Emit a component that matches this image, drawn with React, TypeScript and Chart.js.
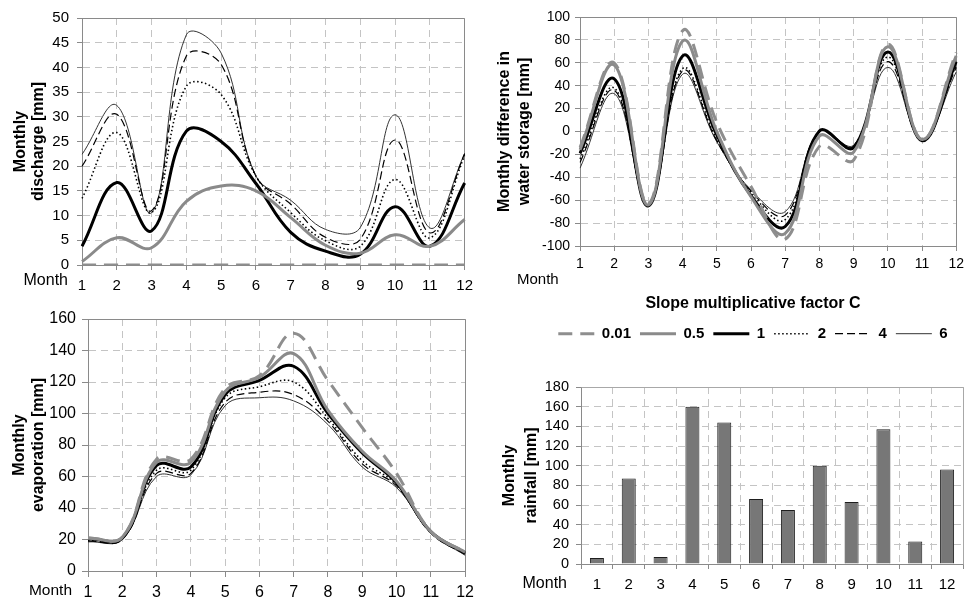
import React, { useEffect, useRef } from 'react';
import { Chart, registerables } from 'chart.js';

Chart.register(...registerables);
Chart.defaults.font.family = "'Liberation Sans', Arial, Helvetica, sans-serif";
Chart.defaults.color = '#000';

// ---------- data ----------
const months = ['1', '2', '3', '4', '5', '6', '7', '8', '9', '10', '11', '12'];
const factors = ['0.01', '0.5', '1', '2', '4', '6'];
const legendTitle = 'Slope multiplicative factor C';
const xAxisName = 'Month';

// Monthly discharge [mm]
const discharge001 = [0, 0, 0, 0, 0, 0, 0, 0, 0, 0, 0, 0];
const discharge05 = [0.7, 5.5, 3.5, 12.9, 16.0, 15.0, 9.6, 4.0, 2.4, 6.1, 3.8, 9.2];
const discharge1 = [3.8, 16.7, 6.9, 27.1, 25.0, 16.5, 6.6, 2.8, 2.2, 11.8, 3.8, 16.6];
const discharge2 = [13.5, 26.8, 10.6, 36.2, 34.5, 18.0, 10.6, 4.9, 3.8, 17.3, 5.5, 22.2];
const discharge4 = [20.0, 30.5, 11.0, 42.3, 40.6, 18.0, 12.3, 5.6, 5.2, 25.3, 6.5, 22.5];
const discharge6 = [22.4, 32.3, 10.6, 46.6, 42.9, 18.0, 13.1, 7.2, 7.6, 30.4, 7.5, 22.6];

// Monthly difference in water storage [mm]
const storage001 = [-14, 60, -63, 88, 8, -48, -94, -13, -25, 76, -7, 69];
const storage05 = [-16, 58, -64, 79, 0, -57, -89, -4, -18, 74, -7, 66];
const storage1 = [-19, 46, -65, 66, -3, -56, -83, 0.5, -14, 69.5, -8, 61];
const storage2 = [-24, 38, -64, 55, -7, -53, -77, 0, -13, 65, -7.5, 58];
const storage4 = [-27, 36, -64, 53, -8, -52, -73, 0, -13, 61, -7.5, 56];
const storage6 = [-32, 33, -64, 50, -9, -51, -70, 0, -12, 56, -7, 52];

// Monthly evaporation [mm]
const evap001 = [21, 21.5, 71, 71, 116, 124, 151, 121, 91, 62, 25, 12];
const evap05 = [21, 21.5, 69, 69, 114, 123, 138, 102, 76, 57, 25, 12];
const evap1 = [20.5, 21, 67, 66, 112, 121, 130, 100, 75, 56, 25, 11.5];
const evap2 = [19.5, 20.5, 64, 64, 110, 117, 120, 97, 70, 55, 24.5, 11];
const evap4 = [19, 20, 62, 62, 107, 113.5, 112, 95, 68, 54, 24, 10.5];
const evap6 = [18.5, 20, 60, 61, 105, 110, 108, 93, 66, 53, 24, 10];

// Monthly rainfall [mm]
const rainfall = [6, 87, 7, 160, 144, 66, 55, 100, 63, 137, 23, 96];

// ---------- styles ----------
const STYLES = [
  { borderColor: '#8e8e8e', borderWidth: 3, borderDash: [14, 8] },
  { borderColor: '#8a8a8a', borderWidth: 3, borderDash: [] as number[] },
  { borderColor: '#000000', borderWidth: 3, borderDash: [] as number[] },
  { borderColor: '#000000', borderWidth: 1.6, borderDash: [1.5, 2.5] },
  { borderColor: '#000000', borderWidth: 1.2, borderDash: [8, 4] },
  { borderColor: '#333333', borderWidth: 1, borderDash: [] as number[] },
];
const GRID = '#c4c4c4';
const AXIS = '#8a8a8a';

function lineDatasets(series: number[][]) {
  return series.map((values, i) => ({
    label: factors[i],
    data: values,
    ...STYLES[i],
    pointRadius: 0,
    pointHoverRadius: 0,
    tension: 0.4,
    fill: false,
  }));
}

function alignPx(v: number) {
  return Math.round(v - 0.5) + 0.5;
}

const decor = {
  id: 'decor',
  beforeDatasetsDraw(chart: any, _args: any, opts: any) {
    if (!opts || !opts.frame) return;
    const { ctx, chartArea: a } = chart;
    ctx.save();
    ctx.strokeStyle = opts.frame;
    ctx.lineWidth = 1;
    ctx.setLineDash([]);
    ctx.beginPath();
    ctx.moveTo(alignPx(a.left), alignPx(a.top));
    ctx.lineTo(alignPx(a.right), alignPx(a.top));
    ctx.lineTo(alignPx(a.right), alignPx(a.bottom));
    ctx.stroke();
    ctx.restore();
  },
  afterDraw(chart: any, _args: any, opts: any) {
    if (!opts || !opts.month) return;
    const m = opts.month;
    const { ctx } = chart;
    ctx.save();
    ctx.fillStyle = '#000';
    ctx.font = `${m.size}px 'Liberation Sans', Arial, sans-serif`;
    ctx.textAlign = m.align;
    ctx.textBaseline = 'middle';
    ctx.fillText(xAxisName, m.x, m.y);
    ctx.restore();
  },
};

function makeScales(p: any) {
  return {
    x: {
      type: 'category',
      offset: !!p.offset,
      grid: {
        color: GRID,
        lineWidth: 1,
        drawTicks: true,
        tickLength: p.tickLen,
        tickColor: AXIS,
        tickWidth: 1,
        offset: !!p.offset,
      },
      border: { display: true, color: AXIS, width: 1, dash: [7, 5] },
      ticks: { color: '#000', font: { size: p.xTickSize }, padding: p.xPad, autoSkip: false, maxRotation: 0 },
      afterFit: (s: any) => {
        s.height = p.xHeight;
      },
    },
    y: {
      type: 'linear',
      min: p.ymin,
      max: p.ymax,
      ticks: { stepSize: p.step, color: '#000', font: { size: p.yTickSize }, padding: p.yPad, autoSkip: false },
      grid: {
        color: GRID,
        lineWidth: 1,
        drawTicks: true,
        tickLength: p.tickLen,
        tickColor: AXIS,
        tickWidth: 1,
      },
      border: { display: true, color: AXIS, width: 1, dash: [7, 5] },
      title: {
        display: true,
        text: p.title,
        color: '#000',
        font: { size: 16, weight: 'bold', lineHeight: p.titleLH },
        padding: { top: p.titlePad, bottom: 0 },
      },
      afterFit: (s: any) => {
        s.width = p.yWidth;
      },
    },
  };
}

function baseOptions(padding: any, scales: any, decorOpts: any) {
  return {
    responsive: false,
    animation: false,
    events: [],
    layout: { padding },
    scales,
    plugins: {
      legend: { display: false },
      tooltip: { enabled: false },
      decor: decorOpts,
    },
  };
}

export default function App() {
  const refA = useRef<HTMLCanvasElement>(null);
  const refB = useRef<HTMLCanvasElement>(null);
  const refL = useRef<HTMLCanvasElement>(null);
  const refC = useRef<HTMLCanvasElement>(null);
  const refD = useRef<HTMLCanvasElement>(null);

  useEffect(() => {
    const charts: Chart[] = [];

    charts.push(
      new Chart(refA.current as HTMLCanvasElement, {
        type: 'line',
        data: {
          labels: months,
          datasets: lineDatasets([discharge001, discharge05, discharge1, discharge2, discharge4, discharge6]),
        },
        options: baseOptions(
          { left: 0, top: 18, right: 12, bottom: 0 },
          makeScales({
            ymin: 0, ymax: 50, step: 5, yWidth: 82, xHeight: 35, tickLen: 5,
            xTickSize: 15, yTickSize: 15, xPad: 7, yPad: 8,
            title: ['Monthly', 'discharge [mm]'], titleLH: 1.125, titlePad: 12,
          }),
          { frame: AXIS, month: { x: 68, y: 281, align: 'right', size: 16 } }
        ) as any,
        plugins: [decor],
      })
    );

    charts.push(
      new Chart(refB.current as HTMLCanvasElement, {
        type: 'line',
        data: {
          labels: months,
          datasets: lineDatasets([storage001, storage05, storage1, storage2, storage4, storage6]),
        },
        options: baseOptions(
          { left: 0, top: 17, right: 7, bottom: 0 },
          makeScales({
            ymin: -100, ymax: 100, step: 20, yWidth: 100, xHeight: 44, tickLen: 5,
            xTickSize: 14, yTickSize: 14, xPad: 5, yPad: 5,
            title: ['Monthly difference in', 'water storage [mm]'], titleLH: 1.25, titlePad: 15,
          }),
          { frame: AXIS, month: { x: 37, y: 280, align: 'left', size: 15 } }
        ) as any,
        plugins: [decor],
      })
    );

    charts.push(
      new Chart(refL.current as HTMLCanvasElement, {
        type: 'line',
        data: {
          labels: [],
          datasets: factors.map((f, i) => ({ label: f, data: [], ...STYLES[i], pointRadius: 0 })),
        },
        options: {
          responsive: false,
          animation: false,
          events: [],
          layout: { padding: 0 },
          scales: { x: { display: false }, y: { display: false } },
          plugins: {
            tooltip: { enabled: false },
            legend: {
              display: true,
              position: 'top',
              align: 'center',
              maxHeight: 64,
              title: {
                display: true,
                text: legendTitle,
                color: '#000',
                font: { size: 16, weight: 'bold' },
                padding: { top: 11, bottom: 2 },
              },
              labels: {
                usePointStyle: true,
                pointStyleWidth: 36,
                boxHeight: 15,
                padding: 9,
                color: '#000',
                font: { size: 15, weight: 'bold' },
                generateLabels: (chart: any) =>
                  chart.data.datasets.map((ds: any, i: number) => ({
                    text: ds.label,
                    fillStyle: 'rgba(0,0,0,0)',
                    strokeStyle: ds.borderColor,
                    lineWidth: ds.borderWidth,
                    lineDash: ds.borderDash,
                    lineCap: 'butt',
                    pointStyle: 'line',
                    rotation: 0,
                    hidden: false,
                    datasetIndex: i,
                    fontColor: '#000',
                  })),
              },
            },
          },
        } as any,
      })
    );

    charts.push(
      new Chart(refC.current as HTMLCanvasElement, {
        type: 'line',
        data: {
          labels: months,
          datasets: lineDatasets([evap001, evap05, evap1, evap2, evap4, evap6]),
        },
        options: baseOptions(
          { left: 0, top: 19, right: 10, bottom: 0 },
          makeScales({
            ymin: 0, ymax: 160, step: 20, yWidth: 88, xHeight: 28, tickLen: 6,
            xTickSize: 16, yTickSize: 16, xPad: 6, yPad: 6,
            title: ['Monthly', 'evaporation [mm]'], titleLH: 1.1875, titlePad: 10.5,
          }),
          { frame: AXIS, month: { x: 72, y: 291, align: 'right', size: 15.5 } }
        ) as any,
        plugins: [decor],
      })
    );

    charts.push(
      new Chart(refD.current as HTMLCanvasElement, {
        type: 'bar',
        data: {
          labels: months,
          datasets: [
            {
              label: 'Monthly rainfall',
              data: rainfall,
              backgroundColor: '#777777',
              borderColor: '#1e1e1e',
              borderWidth: 1,
              barPercentage: 0.44,
              categoryPercentage: 1,
            },
          ],
        },
        options: baseOptions(
          { left: 0, top: 27, right: 6, bottom: 0 },
          makeScales({
            ymin: 0, ymax: 180, step: 20, yWidth: 101, xHeight: 35, tickLen: 5, offset: true,
            xTickSize: 15, yTickSize: 14.5, xPad: 7, yPad: 7,
            title: ['Monthly', 'rainfall [mm]'], titleLH: 1.375, titlePad: 19,
          }),
          { frame: '#a8a8a8', month: { x: 87, y: 224, align: 'right', size: 16 } }
        ) as any,
        plugins: [decor],
      })
    );

    return () => {
      charts.forEach((c) => c.destroy());
    };
  }, []);

  const cv = (left: number, top: number, w: number, h: number): React.CSSProperties => ({
    position: 'absolute',
    left,
    top,
    width: w,
    height: h,
  });

  return (
    <div style={{ position: 'absolute', left: 0, top: 0, width: 969, height: 599, background: '#fff', overflow: 'hidden' }}>
      <canvas ref={refA} width={480} height={300} style={cv(0, 0, 480, 300)} />
      <canvas ref={refB} width={489} height={290} style={cv(480, 0, 489, 290)} />
      <canvas ref={refC} width={480} height={299} style={cv(0, 300, 480, 299)} />
      <canvas ref={refD} width={489} height={239} style={cv(480, 360, 489, 239)} />
      <canvas ref={refL} width={424} height={65} style={cv(541, 285, 424, 65)} />
    </div>
  );
}
